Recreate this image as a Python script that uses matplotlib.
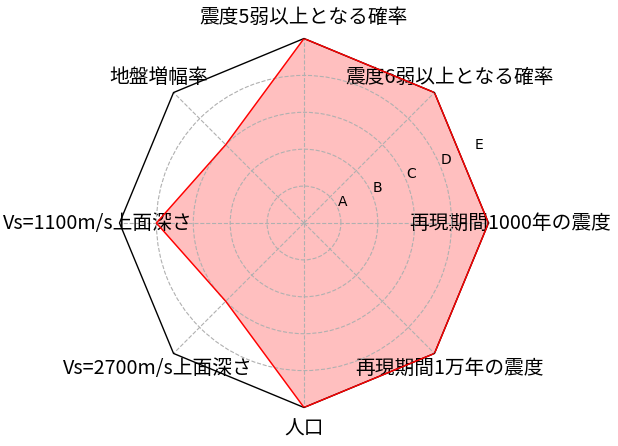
import numpy as np
import matplotlib
matplotlib.use("Agg")
import matplotlib.pyplot as plt

# categories, counter-clockwise starting from the right (east)
labels = ["再現期間1000年の震度", "震度6弱以上となる確率", "震度5弱以上となる確率", "地盤増幅率",
          "Vs=1100m/s上面深さ", "Vs=2700m/s上面深さ", "人口", "再現期間1万年の震度"]
values = [5, 5, 5, 3, 4, 3, 5, 5]
ranks = [1, 2, 3, 4, 5]
rank_labels = ["A", "B", "C", "D", "E"]

n = len(labels)
angles = np.linspace(0, 2 * np.pi, n, endpoint=False)

fig = plt.figure(figsize=(6.18, 4.46), dpi=100)
ax = fig.add_axes([119.5 / 618, 38.5 / 446, 369 / 618, 369 / 446], projection="polar")
ax.set_ylim(0, max(ranks))

# octagon frame instead of the round spine
ax.spines["polar"].set_visible(False)
ax.patch.set_visible(False)
frame_t = np.append(angles, angles[0])
ax.plot(frame_t, [max(ranks)] * (n + 1), color="black", lw=1, zorder=3, clip_on=False)

ax.set_thetagrids(np.degrees(angles), labels, fontsize=14.2,
                  family=["Noto Sans CJK JP", "DejaVu Sans"])
ax.tick_params(axis="x", pad=5)
ax.set_rgrids(ranks, rank_labels, fontsize=10)
ax.set_rlabel_position(22.5)
ax.grid(True, color="#b0b0b0", linestyle="--", lw=0.8)
# outermost ring coincides with the frame
ax.yaxis.get_gridlines()[-1].set_visible(False)

t = np.append(angles, angles[0])
v = np.append(values, values[0])
ax.plot(t, v, color="red", lw=1, zorder=4)
# fill under the grid so the dashed lines stay grey
ax.fill(t, v, color="red", alpha=0.25, zorder=1)

fig.savefig("out.png", dpi=100)
